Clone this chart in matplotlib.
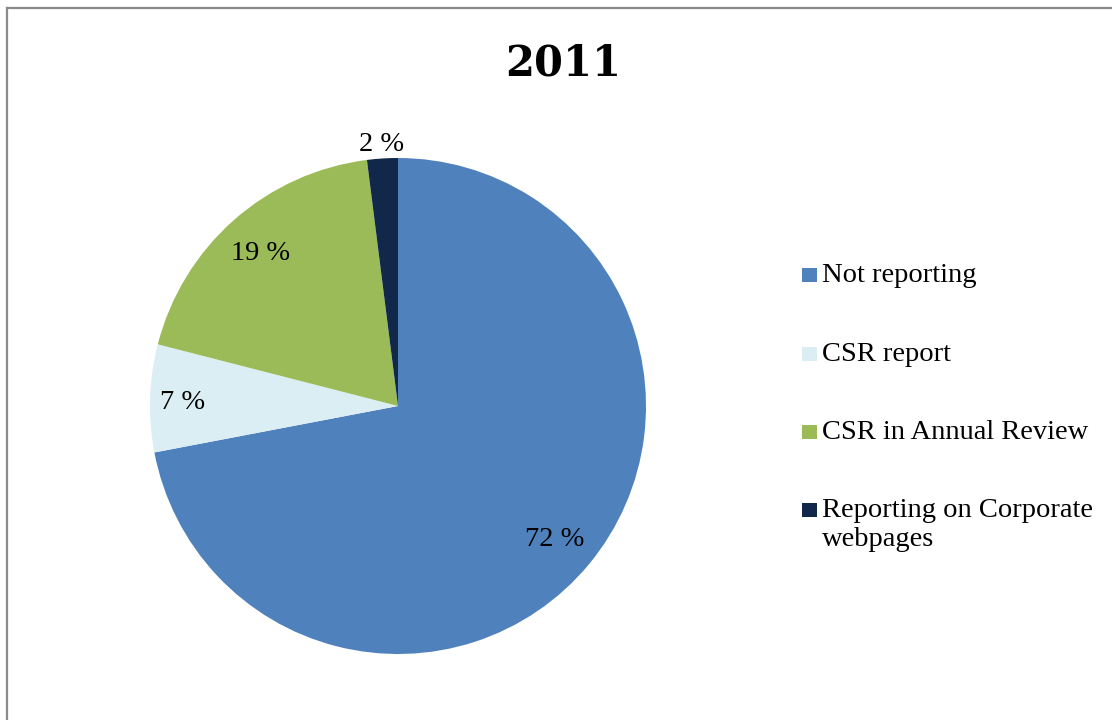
import numpy as np
import matplotlib
matplotlib.use("Agg")
import matplotlib.pyplot as plt
from matplotlib.lines import Line2D
from matplotlib.patches import Rectangle

# ---- data ----
categories = ["Not reporting", "CSR report", "CSR in Annual Review",
              "Reporting on Corporate\nwebpages"]
shares = [72, 7, 19, 2]
colors = ["#4F81BD", "#DBEEF4", "#9BBB59", "#12284A"]
label_radius = [0.82, 0.87, 0.84, 1.07]

W, H = 1112, 720
plt.rcParams["font.family"] = ["Liberation Serif", "DejaVu Serif"]

fig = plt.figure(figsize=(W / 100, H / 100), dpi=100)

# pie axes: centre (398, 406) px, radius 248 px
cx, cy, r = 398, 406, 248
ax = fig.add_axes([(cx - r) / W, (H - cy - r) / H, 2 * r / W, 2 * r / H])
wedges, _ = ax.pie(shares, colors=colors, startangle=90, counterclock=False,
                   radius=1, wedgeprops=dict(linewidth=0))
ax.set_xlim(-1, 1)
ax.set_ylim(-1, 1)
ax.set_aspect("equal")
ax.axis("off")

for w, val, rr in zip(wedges, shares, label_radius):
    ang = np.deg2rad((w.theta1 + w.theta2) / 2)
    ax.text(rr * np.cos(ang), rr * np.sin(ang) - 0.015, f"{val} %",
            ha="center", va="center", fontsize=20.5, color="black")

fig.text(563 / W, 1 - 75 / H, "2011", ha="center", va="baseline",
         fontsize=30, fontweight="bold", family="DejaVu Serif")

# legend drawn by hand so the marker sits on the first text line
leg_base = [282, 361, 439, 517]
for lab, col, y in zip(categories, colors, leg_base):
    fig.add_artist(Rectangle((802 / W, 1 - y / H), 15 / W, 14 / H,
                             transform=fig.transFigure, color=col, lw=0))
    lines = lab.split("\n")
    for i, line in enumerate(lines):
        fig.text(822 / W, 1 - (y + 29 * i) / H, line, ha="left",
                 va="baseline", fontsize=20.5)

# outer frame (left and top edges)
frame = dict(color="#8A8A8A", lw=1.6, transform=fig.transFigure)
fig.add_artist(Line2D([7 / W, 7 / W], [0, 1 - 8 / H], **frame))
fig.add_artist(Line2D([7 / W, 1], [1 - 8 / H, 1 - 8 / H], **frame))

fig.savefig("out.png", dpi=100)
